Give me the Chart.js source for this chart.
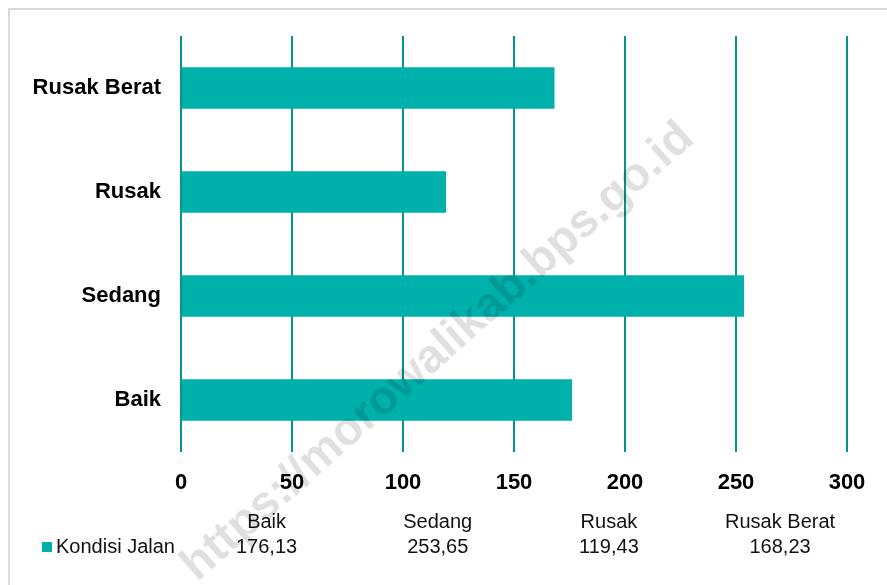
<!DOCTYPE html>
<html>
<head>
<meta charset="utf-8">
<script src="https://cdn.jsdelivr.net/npm/chart.js@4/dist/chart.umd.min.js"></script>
<style>
    html, body { margin: 0; padding: 0; background: #fff; overflow: hidden; }
    #wrap { position: relative; width: 887px; height: 585px; }
</style>
</head>
<body>
<div id="wrap"><canvas id="roadChart" width="887" height="585"></canvas></div>
<script>
const categories = ["Baik", "Sedang", "Rusak", "Rusak Berat"];
const roadValues = [176.13, 253.65, 119.43, 168.23];
const valueLabels = ["176,13", "253,65", "119,43", "168,23"];
const xTicks = [0, 50, 100, 150, 200, 250, 300];
const seriesName = "Kondisi Jalan";
const watermark = "https://morowalikab.bps.go.id";

const barColor = "#00B0AB";
const gridColor = "#00968F";
const fontFamily = "'Liberation Sans', Arial, sans-serif";

// frame, data table under the axis and the faint watermark on top
const extras = {
    id: "extras",
    beforeDraw(chart) {
        const ctx = chart.ctx;
        ctx.save();
        ctx.strokeStyle = "#d9d9d9";
        ctx.lineWidth = 2;
        ctx.strokeRect(9, 9, 1000, 1000);
        ctx.restore();
    },
    afterDraw(chart) {
        const ctx = chart.ctx;
        const area = chart.chartArea;
        const colW = area.width * 1.028 / categories.length;
        const rowName = area.bottom + 70;
        const rowValue = area.bottom + 95;

        ctx.save();
        ctx.font = "20px " + fontFamily;
        ctx.fillStyle = "#111";
        ctx.textAlign = "center";
        ctx.textBaseline = "middle";
        categories.forEach((c, i) => {
            const cx = area.left + colW * (i + 0.5);
            ctx.fillText(c, cx, rowName);
            ctx.fillText(valueLabels[i], cx, rowValue);
        });

        ctx.fillStyle = barColor;
        ctx.fillRect(42, rowValue - 5, 10, 10);
        ctx.fillStyle = "#111";
        ctx.textAlign = "left";
        ctx.fillText(seriesName, 56, rowValue);
        ctx.restore();

        ctx.save();
        ctx.translate(438, 352);
        ctx.rotate(-41.5 * Math.PI / 180);
        ctx.font = "bold 47px " + fontFamily;
        ctx.fillStyle = "rgba(0,0,0,0.12)";
        ctx.textAlign = "center";
        ctx.textBaseline = "middle";
        ctx.fillText(watermark, 0, 0);
        ctx.restore();
    }
};

new Chart(document.getElementById("roadChart"), {
    type: "bar",
    data: {
        labels: categories,
        datasets: [{
            label: seriesName,
            data: roadValues,
            backgroundColor: barColor,
            borderWidth: 0,
            barPercentage: 0.4,
            categoryPercentage: 1
        }]
    },
    options: {
        indexAxis: "y",
        responsive: false,
        animation: false,
        layout: { padding: { left: 0, right: 40, top: 36, bottom: 83 } },
        plugins: {
            legend: { display: false },
            tooltip: { enabled: false }
        },
        scales: {
            x: {
                min: 0,
                max: 300,
                afterBuildTicks: s => { s.ticks = xTicks.map(v => ({ value: v })); },
                afterFit: s => { s.height = 50; },
                border: { display: false },
                grid: { color: gridColor, lineWidth: 2, drawTicks: false },
                ticks: {
                    padding: 18,
                    color: "#000",
                    font: { family: fontFamily, size: 22, weight: "bold" }
                }
            },
            y: {
                reverse: true,
                afterFit: s => { s.width = 181; },
                border: { display: false },
                grid: { display: false, drawTicks: false },
                ticks: {
                    padding: 20,
                    color: "#000",
                    font: { family: fontFamily, size: 22, weight: "bold" }
                }
            }
        }
    },
    plugins: [extras]
});
</script>
</body>
</html>
